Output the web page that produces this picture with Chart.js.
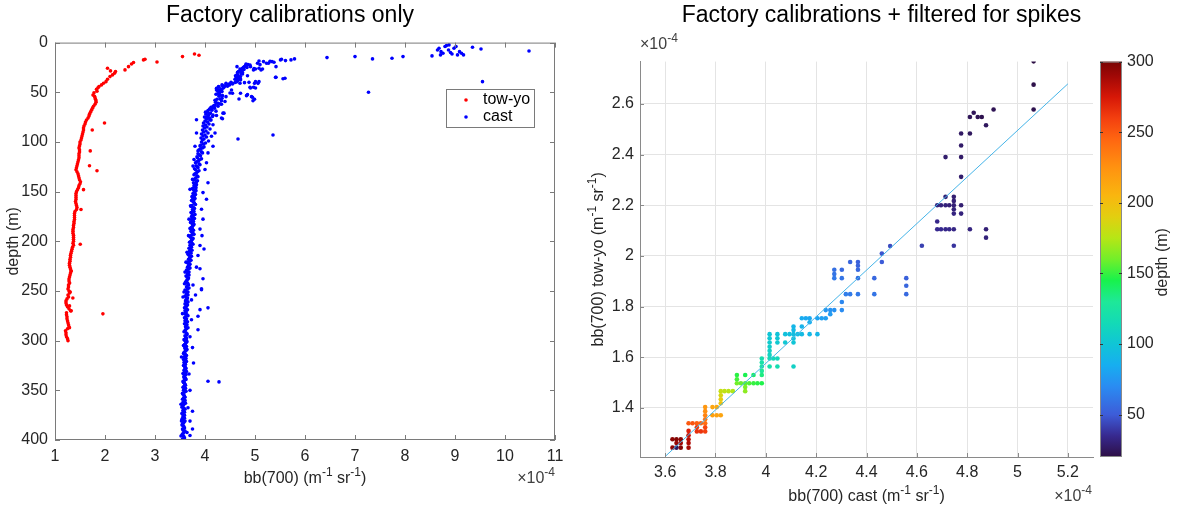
<!DOCTYPE html>
<html>
<head>
<meta charset="utf-8">
<script src="https://cdn.jsdelivr.net/npm/chart.js@4.4.0/dist/chart.umd.min.js"></script>
<style>
html, body { margin: 0; padding: 0; background: #fff; }
#wrap { position: relative; width: 1183px; height: 514px; }
canvas { position: absolute; top: 0; }
#left { left: 0; }
#right { left: 580px; }
</style>
</head>
<body>
<div id="wrap">
  <canvas id="left" width="580" height="514"></canvas>
  <canvas id="right" width="603" height="514"></canvas>
</div>
<script>
// ---- data: left panel (bb700 in units of 1e-4, depth in m) ----
const leftXTicks = [1, 2, 3, 4, 5, 6, 7, 8, 9, 10, 11];
const leftYTicks = [0, 50, 100, 150, 200, 250, 300, 350, 400];

// tow-yo, upper part + outliers
const towyoTopBb = [
  3.88, 3.79, 3.55, 3.04, 2.80, 2.77, 2.57, 2.53, 2.47, 2.40,
  2.21, 2.19, 2.15, 2.11, 2.05, 2.10, 2.05, 2.02, 1.97, 1.93,
  1.88, 1.83, 1.79, 1.76, 1.78, 1.81, 1.86, 1.84, 1.80, 1.82,
  1.99, 1.745, 1.705, 1.69, 1.84, 1.57, 1.52, 1.505, 1.357, 1.958,
  1.325, 1.29, 1.305, 1.29, 1.325, 1.29
];
const towyoTopDepth = [
  12.8, 11.4, 14.1, 19.5, 16.8, 17.4, 20.1, 21.5, 24.2, 27.5,
  29.2, 30.9, 32.5, 28.5, 25.8, 34.2, 36.9, 39.3, 40.9, 42.6,
  44.3, 47.0, 54.0, 52.7, 50.5, 57.0, 45.5, 49.0, 55.5, 58.5,
  81, 88, 109, 124, 129, 148, 168, 203, 257, 273,
  230, 242, 251, 265, 270, 287
];
// tow-yo, main profile
const towyoColBb = [
  1.82, 1.80, 1.77, 1.75, 1.73, 1.71, 1.69, 1.68, 1.66, 1.63,
  1.61, 1.60, 1.58, 1.57, 1.57, 1.56, 1.55, 1.54, 1.53, 1.52,
  1.50, 1.50, 1.49, 1.48, 1.49, 1.49, 1.48, 1.48, 1.48, 1.47,
  1.46, 1.45, 1.44, 1.43, 1.42, 1.44, 1.46, 1.47, 1.48, 1.49,
  1.51, 1.50, 1.48, 1.47, 1.45, 1.43, 1.42, 1.42, 1.42, 1.42,
  1.41, 1.42, 1.43, 1.44, 1.43, 1.40, 1.39, 1.39, 1.39, 1.39,
  1.38, 1.38, 1.37, 1.37, 1.36, 1.36, 1.36, 1.37, 1.37, 1.37,
  1.37, 1.36, 1.37, 1.35, 1.34, 1.33, 1.32, 1.31, 1.31, 1.30,
  1.30, 1.29, 1.29, 1.30, 1.31, 1.32, 1.31, 1.30, 1.29, 1.28,
  1.28, 1.29, 1.27, 1.27, 1.26, 1.28, 1.29, 1.26, 1.27, 1.24,
  1.22, 1.22, 1.23, 1.25, 1.28, 1.31, 1.23, 1.23, 1.24, 1.24,
  1.25, 1.26, 1.27, 1.28, 1.25, 1.21, 1.22, 1.22, 1.23, 1.25,
  1.26
];
const towyoColDepth = [
  60, 62, 64, 66, 68, 70, 72, 74, 76, 78,
  80, 82, 84, 86, 88, 90, 92, 94, 96, 98,
  100, 102, 104, 106, 108, 110, 112, 114, 116, 118,
  120, 122, 124, 126, 128, 130, 132, 134, 136, 138,
  140, 142, 144, 146, 148, 150, 152, 154, 156, 158,
  160, 162, 164, 166, 168, 170, 172, 174, 176, 178,
  180, 182, 184, 186, 188, 190, 192, 194, 196, 198,
  200, 202, 204, 206, 208, 210, 212, 214, 216, 218,
  220, 222, 224, 226, 228, 230, 232, 234, 236, 238,
  240, 242, 244, 246, 248, 250, 252, 254, 256, 258,
  260, 262, 264, 266, 268, 270, 272, 274, 276, 278,
  280, 282, 284, 286, 288, 290, 292, 294, 296, 298,
  300
];

// cast, upper part + scattered points
const castTopBb = [
  10.48, 9.52, 9.35, 9.55, 8.54, 8.65, 8.68, 8.72, 8.76, 8.80,
  8.83, 8.87, 8.91, 8.94, 8.98, 9.02, 9.05, 9.09, 9.13, 9.17,
  8.71, 8.88, 7.96, 7.74, 7.35, 7.00, 6.44, 7.27, 5.79, 5.72,
  5.53, 5.60, 5.42, 5.42, 5.34, 5.27, 5.17, 5.08, 5.05, 5.08,
  5.12, 4.97, 5.01, 4.97, 4.90, 4.93, 4.99, 4.90, 4.82, 4.79,
  4.75, 4.71, 4.67, 4.64, 4.64, 4.67, 4.71, 4.70, 4.64, 4.56,
  4.49, 4.42, 4.34, 4.27, 4.23, 4.27, 4.34, 4.30, 4.34, 4.42,
  4.53, 4.79, 5.08, 4.71, 4.75, 5.61, 5.51, 5.38, 5.30, 5.23,
  5.15, 5.10, 5.01, 4.91, 4.86, 4.81, 4.77, 4.75, 4.68, 4.71,
  4.65, 4.85, 4.88, 4.99, 5.06, 5.01, 4.91, 5.41, 4.61, 4.55,
  4.48, 4.41, 4.35, 4.28, 4.23, 4.31, 4.25, 4.35, 4.55, 4.71,
  4.85, 4.95, 4.68, 4.30, 4.21, 4.30, 4.18, 4.13, 4.06, 4.01,
  4.08, 4.15, 4.23, 4.38, 4.35, 4.03, 4.10, 4.61, 4.65, 4.70,
  4.66, 5.36, 4.50, 4.83, 4.96, 5.56, 4.98, 4.40, 4.26, 4.16,
  4.45, 4.38, 4.32, 4.26, 4.22, 4.28, 4.24, 4.20, 4.36, 4.60,
  4.66, 4.73, 4.78, 4.84, 4.72, 4.62, 4.52, 4.46, 4.29, 4.33,
  4.10, 4.16, 4.20, 4.36, 4.33, 4.13, 4.16, 4.06, 4.03, 4.00,
  4.06, 3.96, 4.03, 3.93, 3.96, 3.90, 3.94, 3.90, 3.86, 3.98,
  3.83, 3.90, 3.96, 3.93, 3.83, 3.83, 3.80, 3.78, 3.76, 3.75,
  3.70, 3.71, 3.68, 3.67, 3.64, 3.62, 3.60, 3.59, 3.58, 3.76,
  3.93, 3.90, 4.06, 3.86, 3.81, 3.86, 3.75, 3.77, 3.75, 3.75,
  3.70, 3.73, 3.73, 3.70, 3.68, 3.70, 3.66, 3.70, 3.64, 4.06,
  4.28, 3.53, 3.52, 3.53, 3.52, 3.55, 3.56
];
const castTopDepth = [
  8.4, 6.4, 4.7, 39.3, 13.4, 7.4, 5.7, 9.1, 10.7, 4.0,
  3.0, 7.4, 10.0, 11.4, 5.7, 4.0, 12.4, 9.1, 10.7, 12.4,
  12.4, 2.3, 14.1, 15.8, 16.4, 14.1, 15.1, 50.0, 16.4, 17.4,
  16.8, 35.9, 34.9, 24.2, 19.1, 20.8, 19.1, 18.5, 20.8, 25.8,
  27.5, 27.5, 39.3, 45.0, 45.0, 54.4, 57.0, 22.5, 21.5, 24.2,
  25.8, 27.5, 29.2, 24.2, 32.5, 35.9, 37.6, 40.9, 39.3, 40.9,
  42.6, 40.9, 42.6, 44.3, 46.0, 47.7, 49.3, 52.7, 56.0, 54.4,
  47.7, 40.3, 39.3, 34.2, 30.2, 18.1, 17.4, 19.8, 18.8, 20.8,
  26.5, 22.2, 26.5, 24.2, 22.2, 23.2, 24.9, 31.6, 35.0, 36.6,
  38.3, 33.3, 40.0, 41.0, 41.0, 45.7, 45.7, 35.0, 40.0, 41.6,
  41.6, 43.3, 43.3, 45.0, 47.6, 48.3, 51.7, 53.4, 51.0, 51.0,
  52.4, 55.0, 56.7, 56.7, 60.0, 61.7, 63.4, 66.7, 68.4, 70.0,
  72.4, 74.4, 73.4, 71.0, 76.7, 75.1, 77.7, 33.3, 30.0, 26.5,
  97.0, 93.0, 50.7, 53.4, 58.5, 36.4, 26.2, 59.3, 61.0, 64.3,
  44.0, 45.0, 47.0, 49.0, 52.0, 54.0, 57.0, 58.0, 46.0, 37.0,
  33.0, 29.0, 27.0, 25.0, 31.0, 36.0, 40.0, 42.5, 50.5, 58.5,
  77.7, 82.7, 91.0, 71.0, 76.0, 94.3, 104.3, 111.0, 121.0, 127.7,
  141.0, 151.0, 157.7, 167.7, 177.7, 187.7, 194.3, 204.3, 214.3, 207.7,
  226.0, 227.7, 237.7, 247.7, 77.7, 91.0, 104.3, 117.7, 124.3, 137.7,
  147.7, 164.3, 177.7, 194.3, 211.0, 221.0, 231.0, 242.7, 251.0, 244.0,
  248.7, 268.8, 267.0, 275.5, 254.0, 289.0, 307.0, 322.5, 371.0, 389.0,
  395.5, 279.0, 259.0, 296.0, 333.6, 350.0, 367.5, 381.0, 392.5, 340.8,
  341.5, 316.5, 364.0, 381.0, 396.0, 272.8, 256.0
];
// cast, main column 61-400 m
const castColBb = [
  4.24, 4.33, 4.20, 4.26, 4.12, 4.19, 4.09, 4.14, 4.22, 4.05,
  4.11, 4.02, 4.16, 4.06, 3.99, 4.09, 4.03, 4.12, 4.00, 4.05,
  3.97, 4.08, 4.01, 3.96, 4.04, 3.99, 4.10, 3.95, 4.02, 3.97,
  4.06, 3.93, 4.00, 3.96, 4.03, 3.92, 3.98, 3.95, 4.07, 3.93,
  4.01, 3.97, 3.92, 3.90, 3.98, 3.95, 3.91, 3.88, 3.86, 3.93,
  3.95, 3.86, 3.89, 3.91, 3.84, 3.85, 3.93, 3.89, 3.87, 3.83,
  3.81, 3.88, 3.90, 3.82, 3.85, 3.86, 3.79, 3.81, 3.88, 3.85,
  3.83, 3.80, 3.78, 3.84, 3.86, 3.82, 3.80, 3.79, 3.85, 3.83,
  3.77, 3.80, 3.83, 3.78, 3.79, 3.82, 3.75, 3.77, 3.82, 3.80,
  3.78, 3.76, 3.81, 3.79, 3.74, 3.75, 3.80, 3.78, 3.73, 3.76,
  3.78, 3.79, 3.81, 3.74, 3.72, 3.77, 3.79, 3.75, 3.76, 3.78,
  3.72, 3.74, 3.80, 3.77, 3.73, 3.75, 3.79, 3.73, 3.75, 3.77,
  3.71, 3.74, 3.78, 3.76, 3.75, 3.73, 3.70, 3.75, 3.77, 3.72,
  3.74, 3.76, 3.78, 3.73, 3.70, 3.71, 3.76, 3.75, 3.73, 3.72,
  3.69, 3.74, 3.76, 3.70, 3.72, 3.73, 3.68, 3.71, 3.74, 3.69,
  3.71, 3.72, 3.66, 3.68, 3.73, 3.70, 3.69, 3.67, 3.72, 3.69,
  3.65, 3.66, 3.70, 3.68, 3.67, 3.65, 3.70, 3.67, 3.63, 3.64,
  3.68, 3.66, 3.65, 3.68, 3.62, 3.64, 3.67, 3.66, 3.64, 3.63,
  3.61, 3.65, 3.66, 3.67, 3.64, 3.63, 3.68, 3.65, 3.60, 3.62,
  3.66, 3.64, 3.63, 3.66, 3.60, 3.62, 3.65, 3.64, 3.62, 3.61,
  3.66, 3.63, 3.60, 3.65, 3.63, 3.61, 3.59, 3.63, 3.65, 3.60,
  3.62, 3.62, 3.60, 3.64, 3.66, 3.61, 3.59, 3.63, 3.62, 3.60,
  3.65, 3.62, 3.59, 3.64, 3.62, 3.61, 3.66, 3.63, 3.61, 3.60,
  3.58, 3.62, 3.64, 3.64, 3.60, 3.61, 3.62, 3.63, 3.58, 3.60,
  3.64, 3.62, 3.61, 3.59, 3.57, 3.63, 3.60, 3.60, 3.64, 3.62,
  3.60, 3.58, 3.57, 3.61, 3.63, 3.59, 3.60, 3.62, 3.57, 3.60,
  3.63, 3.58, 3.60, 3.61, 3.57, 3.59, 3.61, 3.62, 3.59, 3.58,
  3.63, 3.60, 3.56, 3.62, 3.60, 3.58, 3.58, 3.61, 3.62, 3.59,
  3.56, 3.57, 3.59, 3.60, 3.61, 3.58, 3.56, 3.61, 3.59, 3.57,
  3.62, 3.59, 3.55, 3.56, 3.58, 3.59, 3.60, 3.57, 3.55, 3.60,
  3.59, 3.56, 3.61, 3.58, 3.56, 3.55, 3.54, 3.58, 3.60, 3.56,
  3.57, 3.59, 3.54, 3.55, 3.59, 3.57, 3.56, 3.59, 3.54, 3.56,
  3.60, 3.58, 3.57, 3.55, 3.54, 3.57, 3.58, 3.59, 3.55, 3.56,
  3.60, 3.58, 3.57, 3.55, 3.54, 3.57, 3.58, 3.59, 3.55, 3.56
];
const castColDepth = [
  61, 62, 63, 64, 65, 66, 67, 68, 69, 70,
  71, 72, 73, 74, 75, 76, 77, 78, 79, 80,
  81, 82, 83, 84, 85, 86, 87, 88, 89, 90,
  91, 92, 93, 94, 95, 96, 97, 98, 99, 100,
  101, 102, 103, 104, 105, 106, 107, 108, 109, 110,
  111, 112, 113, 114, 115, 116, 117, 118, 119, 120,
  121, 122, 123, 124, 125, 126, 127, 128, 129, 130,
  131, 132, 133, 134, 135, 136, 137, 138, 139, 140,
  141, 142, 143, 144, 145, 146, 147, 148, 149, 150,
  151, 152, 153, 154, 155, 156, 157, 158, 159, 160,
  161, 162, 163, 164, 165, 166, 167, 168, 169, 170,
  171, 172, 173, 174, 175, 176, 177, 178, 179, 180,
  181, 182, 183, 184, 185, 186, 187, 188, 189, 190,
  191, 192, 193, 194, 195, 196, 197, 198, 199, 200,
  201, 202, 203, 204, 205, 206, 207, 208, 209, 210,
  211, 212, 213, 214, 215, 216, 217, 218, 219, 220,
  221, 222, 223, 224, 225, 226, 227, 228, 229, 230,
  231, 232, 233, 234, 235, 236, 237, 238, 239, 240,
  241, 242, 243, 244, 245, 246, 247, 248, 249, 250,
  251, 252, 253, 254, 255, 256, 257, 258, 259, 260,
  261, 262, 263, 264, 265, 266, 267, 268, 269, 270,
  271, 272, 273, 274, 275, 276, 277, 278, 279, 280,
  281, 282, 283, 284, 285, 286, 287, 288, 289, 290,
  291, 292, 293, 294, 295, 296, 297, 298, 299, 300,
  301, 302, 303, 304, 305, 306, 307, 308, 309, 310,
  311, 312, 313, 314, 315, 316, 317, 318, 319, 320,
  321, 322, 323, 324, 325, 326, 327, 328, 329, 330,
  331, 332, 333, 334, 335, 336, 337, 338, 339, 340,
  341, 342, 343, 344, 345, 346, 347, 348, 349, 350,
  351, 352, 353, 354, 355, 356, 357, 358, 359, 360,
  361, 362, 363, 364, 365, 366, 367, 368, 369, 370,
  371, 372, 373, 374, 375, 376, 377, 378, 379, 380,
  381, 382, 383, 384, 385, 386, 387, 388, 389, 390,
  391, 392, 393, 394, 395, 396, 397, 398, 399, 400
];

// ---- data: right panel (filtered, matched pairs) ----
const rightXTicks = [3.6, 3.8, 4.0, 4.2, 4.4, 4.6, 4.8, 5.0, 5.2];
const rightYTicks = [1.4, 1.6, 1.8, 2.0, 2.2, 2.4, 2.6];
const cbarTicks = [50, 100, 150, 200, 250, 300];

const pairCast = [
  3.629, 3.645, 3.662, 3.645, 3.662, 3.629, 3.645, 3.662, 3.693, 3.693,
  3.693, 3.693, 3.693, 3.693, 3.709, 3.726, 3.742, 3.759, 3.726, 3.759,
  3.726, 3.742, 3.759, 3.759, 3.759, 3.759, 3.759, 3.788, 3.805, 3.788,
  3.805, 3.821, 3.821, 3.821, 3.821, 3.821, 3.836, 3.852, 3.869, 3.885,
  3.901, 3.918, 3.934, 3.951, 3.967, 3.984, 3.885, 3.885, 3.918, 3.951,
  3.918, 3.918, 3.984, 3.984, 3.984, 3.984, 3.984, 4.015, 4.030, 4.046,
  4.015, 4.046, 4.110, 4.015, 4.015, 4.015, 4.015, 4.015, 4.015, 4.046,
  4.046, 4.046, 4.077, 4.094, 4.110, 4.127, 4.143, 4.174, 4.205, 4.110,
  4.110, 4.110, 4.110, 4.077, 4.143, 4.143, 4.159, 4.174, 4.205, 4.222,
  4.238, 4.174, 4.238, 4.256, 4.272, 4.256, 4.302, 4.302, 4.272, 4.272,
  4.272, 4.302, 4.302, 4.335, 4.366, 4.366, 4.366, 4.366, 4.431, 4.461,
  4.461, 4.494, 4.318, 4.335, 4.366, 4.431, 4.558, 4.558, 4.558, 4.620,
  4.747, 5.064, 5.064, 5.064, 4.905, 4.826, 4.811, 4.842, 4.858, 4.875,
  4.776, 4.811, 4.776, 4.714, 4.776, 4.776, 4.714, 4.747, 4.747, 4.681,
  4.696, 4.714, 4.729, 4.747, 4.776, 4.747, 4.747, 4.776, 4.681, 4.681,
  4.696, 4.714, 4.729, 4.747, 4.811, 4.875, 4.875
];
const pairTowyo = [
  1.276, 1.276, 1.276, 1.261, 1.261, 1.243, 1.243, 1.243, 1.243, 1.261,
  1.276, 1.292, 1.309, 1.339, 1.339, 1.339, 1.339, 1.339, 1.323, 1.323,
  1.307, 1.307, 1.307, 1.355, 1.371, 1.387, 1.403, 1.403, 1.403, 1.371,
  1.371, 1.371, 1.418, 1.434, 1.450, 1.466, 1.466, 1.466, 1.466, 1.497,
  1.497, 1.497, 1.497, 1.497, 1.497, 1.497, 1.513, 1.530, 1.530, 1.530,
  1.482, 1.466, 1.530, 1.546, 1.563, 1.579, 1.595, 1.595, 1.595, 1.595,
  1.563, 1.563, 1.563, 1.609, 1.625, 1.641, 1.658, 1.675, 1.691, 1.658,
  1.675, 1.691, 1.691, 1.691, 1.691, 1.691, 1.691, 1.691, 1.691, 1.674,
  1.658, 1.707, 1.721, 1.658, 1.721, 1.754, 1.754, 1.754, 1.754, 1.754,
  1.754, 1.738, 1.786, 1.786, 1.786, 1.770, 1.786, 1.818, 1.945, 1.928,
  1.912, 1.945, 1.912, 1.976, 1.976, 1.961, 1.945, 1.912, 1.912, 2.009,
  1.976, 2.039, 1.849, 1.849, 1.849, 1.849, 1.912, 1.882, 1.849, 2.040,
  2.040, 2.768, 2.676, 2.578, 2.578, 2.565, 2.548, 2.548, 2.548, 2.516,
  2.483, 2.483, 2.436, 2.390, 2.390, 2.312, 2.233, 2.233, 2.217, 2.200,
  2.200, 2.200, 2.200, 2.200, 2.200, 2.184, 2.167, 2.167, 2.136, 2.105,
  2.105, 2.105, 2.105, 2.105, 2.105, 2.105, 2.072
];
const pairDepth = [
  295, 298, 296, 292, 290, 294, 25, 297, 288, 286,
  283, 279, 272, 250, 252, 248, 246, 242, 262, 258,
  266, 264, 260, 238, 232, 226, 222, 214, 212, 218,
  216, 215, 198, 192, 186, 180, 178, 176, 174, 160,
  158, 156, 154, 150, 148, 146, 152, 148, 144, 140,
  162, 166, 135, 130, 126, 122, 118, 116, 114, 112,
  120, 118, 108, 110, 108, 106, 104, 102, 100, 103,
  101, 99, 97, 96, 95, 94, 93, 91, 90, 98,
  100, 92, 90, 102, 88, 84, 83, 82, 80, 79,
  78, 85, 74, 73, 72, 76, 70, 68, 58, 60,
  62, 56, 60, 54, 52, 53, 55, 57, 55, 48,
  50, 45, 64, 63, 62, 60, 52, 54, 56, 42,
  38, 20, 21, 22, 23, 24, 24, 23, 22, 25,
  26, 25, 27, 28, 27, 28, 30, 29, 30, 32,
  31, 31, 30, 30, 29, 31, 32, 31, 34, 35,
  35, 34, 34, 33, 32, 30, 31
];
// fitted line end points
const fitCast = [3.6, 5.2];
const fitTowyo = [1.208, 2.679];

// colour map (depth -> colour)
const cmapDepth = [20, 35, 50, 70, 85, 100, 115, 130, 145, 160, 175, 190, 205, 225, 245, 260, 275, 290, 300];
const cmapColor = ['#2d0f45', '#37298f', '#3d5cd8', '#2a8cf2', '#17aef0', '#10c5d6', '#13dab6', '#1ee898', '#18f24c',
  '#72ef2a', '#b6e616', '#e2cf10', '#f9b60f', '#ff9210', '#ff6611', '#f33f0f', '#d61707', '#a00806', '#7a0403'];

const FONT = '"Liberation Sans", Arial, Helvetica, sans-serif';
Chart.defaults.font.family = FONT;
Chart.defaults.color = '#262626';

function hexRgb(h) {
  return [parseInt(h.slice(1, 3), 16), parseInt(h.slice(3, 5), 16), parseInt(h.slice(5, 7), 16)];
}
function depthColor(d) {
  if (d <= cmapDepth[0]) return cmapColor[0];
  for (let i = 1; i < cmapDepth.length; i++) {
    if (d <= cmapDepth[i]) {
      const t = (d - cmapDepth[i - 1]) / (cmapDepth[i] - cmapDepth[i - 1]);
      const a = hexRgb(cmapColor[i - 1]), b = hexRgb(cmapColor[i]);
      return 'rgb(' + a.map((v, k) => Math.round(v + (b[k] - v) * t)).join(',') + ')';
    }
  }
  return cmapColor[cmapColor.length - 1];
}

// text with superscripts: parts = [[text, isSup], ...]
function drawRich(ctx, parts, x, y, size, align, color) {
  const big = size + 'px ' + FONT, small = Math.round(size * 0.72) + 'px ' + FONT;
  let w = 0;
  parts.forEach(p => { ctx.font = p[1] ? small : big; w += ctx.measureText(p[0]).width; });
  let cx = align === 'center' ? x - w / 2 : (align === 'right' ? x - w : x);
  ctx.fillStyle = color || '#262626';
  ctx.textAlign = 'left';
  ctx.textBaseline = 'middle';
  parts.forEach(p => {
    ctx.font = p[1] ? small : big;
    ctx.fillText(p[0], cx, p[1] ? y - size * 0.4 : y);
    cx += ctx.measureText(p[0]).width;
  });
}
const expParts = [['\u00d710'], ['-4', true]];
const TICK = 16;

const zip = (xs, ys) => xs.map((x, i) => ({ x: x, y: ys[i] }));
const fmt = v => String(Math.round(v * 10) / 10);

// ---------------- left panel ----------------
const leftDecor = {
  id: 'leftDecor',
  afterDraw(chart) {
    const ctx = chart.ctx, a = chart.chartArea, sx = chart.scales.x, sy = chart.scales.y;
    ctx.save();
    ctx.strokeStyle = '#7a7a7a';
    ctx.lineWidth = 1;
    ctx.strokeRect(a.left + 0.5, a.top + 0.5, a.right - a.left - 1, a.bottom - a.top - 1);
    ctx.beginPath();
    sx.ticks.forEach(t => {
      const px = Math.round(sx.getPixelForValue(t.value)) + 0.5;
      ctx.moveTo(px, a.bottom); ctx.lineTo(px, a.bottom - 5);
      ctx.moveTo(px, a.top); ctx.lineTo(px, a.top + 5);
    });
    sy.ticks.forEach(t => {
      const py = Math.round(sy.getPixelForValue(t.value)) + 0.5;
      ctx.moveTo(a.left, py); ctx.lineTo(a.left + 5, py);
      ctx.moveTo(a.right, py); ctx.lineTo(a.right - 5, py);
    });
    ctx.stroke();

    // axis titles
    drawRich(ctx, [['bb(700) (m'], ['-1', true], [' sr'], ['-1', true], [')']], (a.left + a.right) / 2, 479, TICK, 'center');
    drawRich(ctx, expParts, a.right, 479, TICK, 'right', '#404040');
    ctx.save();
    ctx.translate(14, (a.top + a.bottom) / 2);
    ctx.rotate(-Math.PI / 2);
    drawRich(ctx, [['depth (m)']], 0, 0, TICK, 'center');
    ctx.restore();

    // legend
    const lx = 446, ly = 89, lw = 88, lh = 38;
    ctx.fillStyle = '#fff';
    ctx.fillRect(lx, ly, lw, lh);
    ctx.strokeStyle = '#7a7a7a';
    ctx.strokeRect(lx + 0.5, ly + 0.5, lw, lh);
    chart.data.datasets.forEach((ds, i) => {
      const yy = ly + 11 + i * 17;
      ctx.fillStyle = ds.backgroundColor;
      ctx.beginPath();
      ctx.arc(lx + 20, yy, 1.8, 0, Math.PI * 2);
      ctx.fill();
      drawRich(ctx, [[ds.label]], lx + 37, yy, TICK, 'left', '#000');
    });
    ctx.restore();
  }
};

new Chart(document.getElementById('left'), {
  type: 'scatter',
  data: {
    datasets: [
      { label: 'tow-yo', data: zip(towyoTopBb.concat(towyoColBb), towyoTopDepth.concat(towyoColDepth)),
        backgroundColor: '#ff0000', borderWidth: 0, pointRadius: 1.8 },
      { label: 'cast', data: zip(castTopBb.concat(castColBb), castTopDepth.concat(castColDepth)),
        backgroundColor: '#0000ff', borderWidth: 0, pointRadius: 1.8 }
    ]
  },
  options: {
    responsive: false,
    animation: false,
    events: [],
    plugins: {
      legend: { display: false },
      tooltip: { enabled: false },
      title: { display: true, text: 'Factory calibrations only', color: '#000',
        font: { size: 23, weight: 'normal' }, padding: { top: 2, bottom: 13 } }
    },
    scales: {
      x: {
        type: 'linear', min: 1, max: 11,
        afterBuildTicks: s => { s.ticks = leftXTicks.map(v => ({ value: v })); },
        afterFit: s => { s.height = 74; },
        grid: { display: false, drawTicks: false },
        border: { display: false },
        ticks: { padding: 7, font: { size: TICK }, color: '#262626', maxRotation: 0, callback: v => fmt(v) }
      },
      y: {
        type: 'linear', min: 0, max: 400, reverse: true,
        afterBuildTicks: s => { s.ticks = leftYTicks.map(v => ({ value: v })); },
        afterFit: s => { s.width = 55; },
        grid: { display: false, drawTicks: false },
        border: { display: false },
        ticks: { padding: 7, font: { size: TICK }, color: '#262626', callback: v => fmt(v) }
      },
      // empty right margin, keeps the title centred on the canvas
      gap: {
        type: 'linear', position: 'right', min: 0, max: 1,
        afterFit: s => { s.width = 25; },
        grid: { display: false, drawTicks: false },
        border: { display: false },
        ticks: { display: false }
      }
    }
  },
  plugins: [leftDecor]
});

// ---------------- right panel ----------------
const rightDecor = {
  id: 'rightDecor',
  afterDraw(chart) {
    const ctx = chart.ctx, a = chart.chartArea, sx = chart.scales.x, sy = chart.scales.y, sc = chart.scales.cb;
    ctx.save();
    ctx.strokeStyle = '#8a8a8a';
    ctx.lineWidth = 1;
    ctx.beginPath();
    sx.ticks.forEach(t => {
      const px = Math.round(sx.getPixelForValue(t.value)) + 0.5;
      ctx.moveTo(px, a.bottom); ctx.lineTo(px, a.bottom - 4);
    });
    sy.ticks.forEach(t => {
      const py = Math.round(sy.getPixelForValue(t.value)) + 0.5;
      ctx.moveTo(a.left, py); ctx.lineTo(a.left + 4, py);
    });
    ctx.stroke();

    // colour bar
    const bx = sc.left + 7, bw = 22;
    const top = sc.getPixelForValue(sc.max), bot = sc.getPixelForValue(sc.min);
    const g = ctx.createLinearGradient(0, bot, 0, top);
    cmapDepth.forEach((d, i) => g.addColorStop((d - sc.min) / (sc.max - sc.min), cmapColor[i]));
    ctx.fillStyle = g;
    ctx.fillRect(bx, top, bw, bot - top);
    ctx.strokeStyle = '#8a8a8a';
    ctx.strokeRect(bx + 0.5, top + 0.5, bw - 1, bot - top - 1);
    ctx.strokeStyle = '#333';
    ctx.beginPath();
    sc.ticks.forEach(t => {
      const py = Math.round(sc.getPixelForValue(t.value)) + 0.5;
      ctx.moveTo(bx + bw, py); ctx.lineTo(bx + bw - 3, py);
      ctx.moveTo(bx, py); ctx.lineTo(bx + 3, py);
    });
    ctx.stroke();

    ctx.save();
    ctx.translate(583, (top + bot) / 2 + 3);
    ctx.rotate(-Math.PI / 2);
    drawRich(ctx, [['depth (m)']], 0, 0, TICK, 'center');
    ctx.restore();

    // axis titles and exponent labels
    drawRich(ctx, [['bb(700) cast (m'], ['-1', true], [' sr'], ['-1', true], [')']], (a.left + a.right) / 2, 497, TICK, 'center');
    drawRich(ctx, expParts, a.right - 1, 497, TICK, 'right', '#404040');
    drawRich(ctx, expParts, a.left, 45, TICK, 'left', '#404040');
    ctx.save();
    ctx.translate(19, (a.top + a.bottom) / 2);
    ctx.rotate(-Math.PI / 2);
    drawRich(ctx, [['bb(700) tow-yo (m'], ['-1', true], [' sr'], ['-1', true], [')']], 0, 0, TICK, 'center');
    ctx.restore();
    ctx.restore();
  }
};

new Chart(document.getElementById('right'), {
  type: 'scatter',
  data: {
    datasets: [
      { type: 'line', label: 'fit', data: zip(fitCast, fitTowyo), borderColor: '#45b4e8', borderWidth: 1,
        pointRadius: 0, fill: false },
      { label: 'pairs', data: zip(pairCast, pairTowyo),
        backgroundColor: c => depthColor(pairDepth[c.dataIndex]), borderWidth: 0, pointRadius: 2.3 }
    ]
  },
  options: {
    responsive: false,
    animation: false,
    events: [],
    plugins: {
      legend: { display: false },
      tooltip: { enabled: false },
      title: { display: true, text: 'Factory calibrations + filtered for spikes', color: '#000',
        font: { size: 23, weight: 'normal' }, padding: { top: 2, bottom: 32 } }
    },
    scales: {
      x: {
        type: 'linear', min: 3.5, max: 5.3,
        afterBuildTicks: s => { s.ticks = rightXTicks.map(v => ({ value: v })); },
        afterFit: s => { s.height = 57; },
        grid: { color: '#e4e4e4', drawTicks: false },
        border: { color: '#8a8a8a' },
        ticks: { padding: 6, font: { size: TICK }, color: '#262626', maxRotation: 0, callback: v => fmt(v) }
      },
      y: {
        type: 'linear', min: 1.206, max: 2.767,
        afterBuildTicks: s => { s.ticks = rightYTicks.map(v => ({ value: v })); },
        afterFit: s => { s.width = 60; },
        grid: { color: '#e4e4e4', drawTicks: false },
        border: { color: '#8a8a8a' },
        ticks: { padding: 6, font: { size: TICK }, color: '#262626', callback: v => fmt(v) }
      },
      cb: {
        type: 'linear', position: 'right', min: 20, max: 300,
        afterBuildTicks: s => { s.ticks = cbarTicks.map(v => ({ value: v })); },
        afterFit: s => { s.width = 90; },
        grid: { display: false, drawTicks: false },
        border: { display: false },
        ticks: { padding: 34, font: { size: TICK }, color: '#262626', callback: v => fmt(v) }
      }
    }
  },
  plugins: [rightDecor]
});
</script>
</body>
</html>
